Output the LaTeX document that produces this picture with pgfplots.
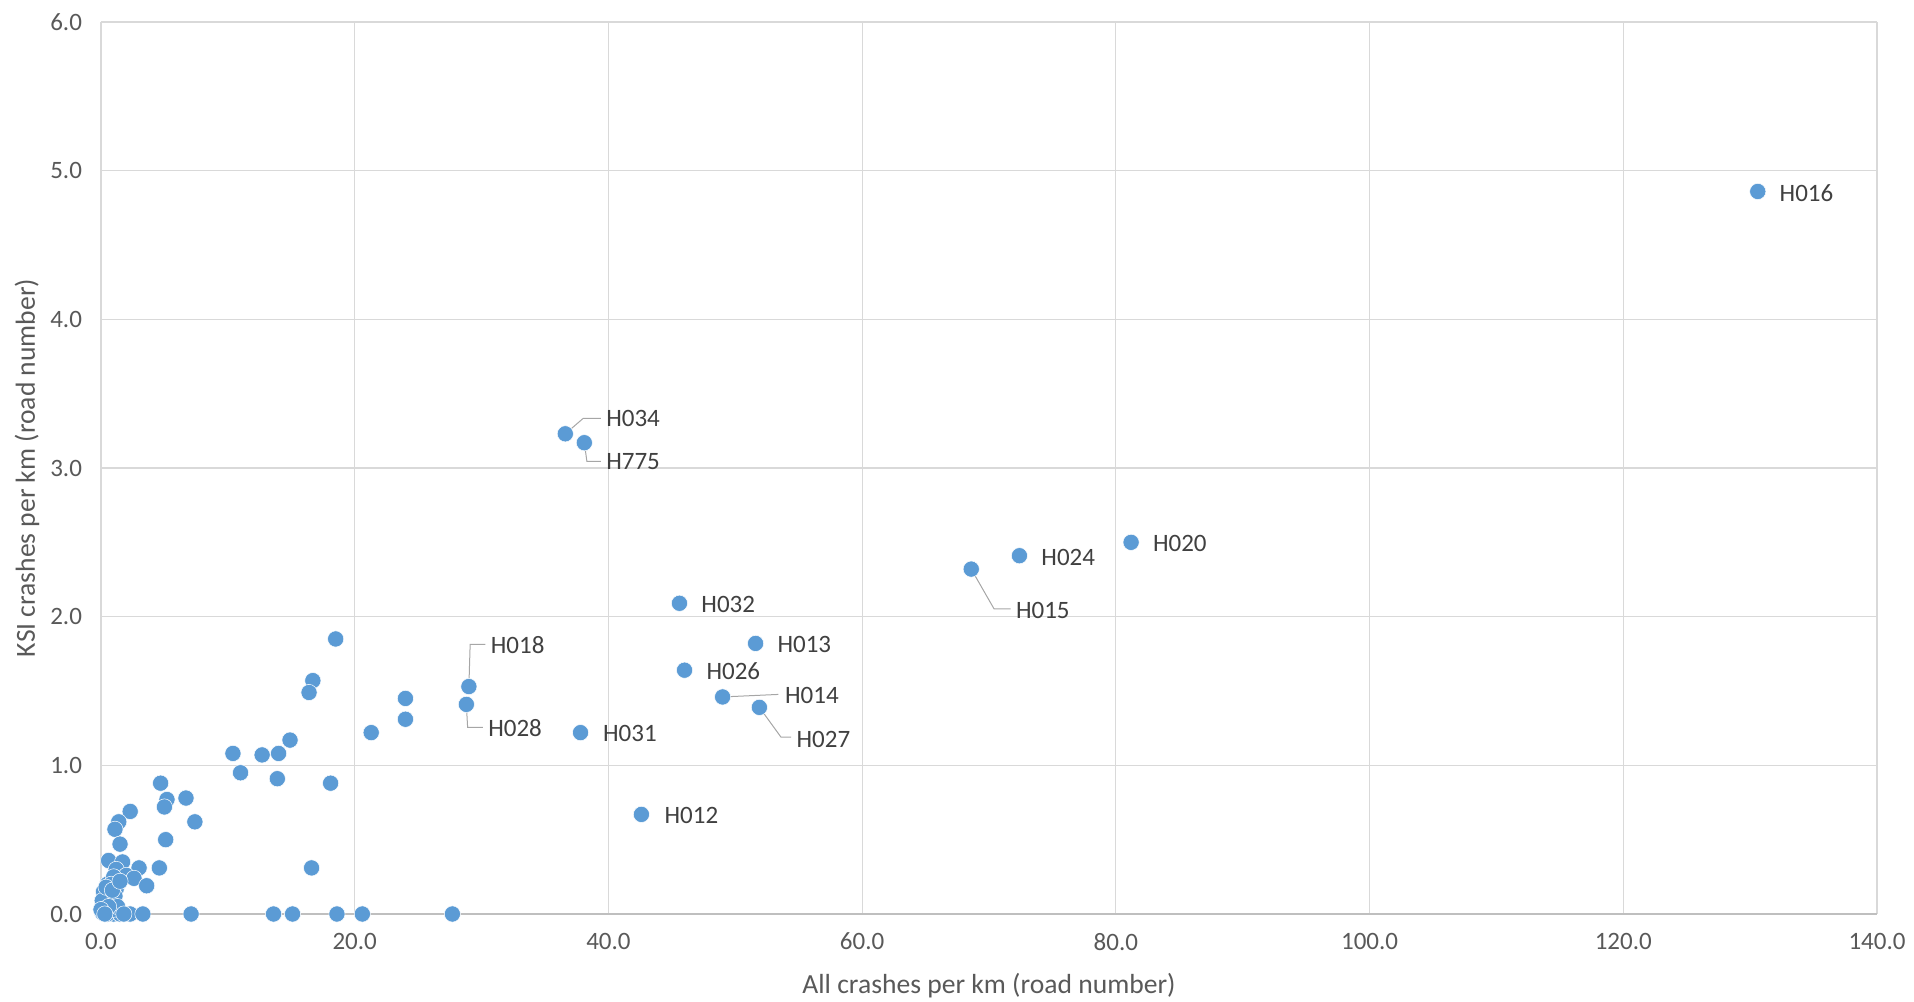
\documentclass[border=0pt]{standalone}
\usepackage{fontspec}
\setmainfont{Carlito}
\usepackage{pgfplots}
\pgfplotsset{compat=1.18}
\definecolor{ptblue}{HTML}{5B9BD5}
\definecolor{gridc}{HTML}{D9D9D9}
\definecolor{axc}{HTML}{BFBFBF}
\definecolor{tickc}{HTML}{595959}
\definecolor{labc}{HTML}{404040}
\definecolor{leadc}{HTML}{A6A6A6}
\begin{document}
\begin{tikzpicture}
\useasboundingbox (-50.5pt,-43.5pt) rectangle (906.5pt,457pt);
\begin{axis}[
  scale only axis,
  width=888pt, height=446pt,
  at={(0,0)}, anchor=south west,
  xmin=0, xmax=140, ymin=0, ymax=6,
  xtick={0,20,...,140}, ytick={0,1,...,6},
  grid=major,
  major grid style={color=gridc, line width=0.6pt},
  axis line style={draw=none},
  major tick length=0pt,
  tick label style={font=\fontsize{12.5}{14}\selectfont, color=tickc},
  /pgf/number format/assume math mode=true,
  xticklabel style={/pgf/number format/.cd, fixed, fixed zerofill, precision=1, /tikz/.cd, yshift=-6pt},
  yticklabel style={/pgf/number format/.cd, fixed, fixed zerofill, precision=1, /tikz/.cd, xshift=-6pt},
  xlabel={All crashes per km (road number)},
  ylabel={KSI crashes per km (road number)},
  label style={font=\fontsize{13.8}{16}\selectfont, color=tickc},
  xlabel style={at={(axis description cs:0.5,0)}, anchor=center, yshift=-36pt},
  ylabel style={at={(axis description cs:0,0.5)}, anchor=center, xshift=0pt, yshift=37pt},
  clip=false,
]
\draw[color=axc, line width=0.8pt] (axis cs:0,0) -- (axis cs:140,0);
\addplot[only marks, mark=*, mark size=4.05pt, mark options={fill=ptblue, draw=white, line width=0.25pt}] coordinates {
(130.6,4.86) (36.6,3.23) (38.1,3.17) (81.2,2.50) (72.4,2.41) (68.6,2.32)
(45.6,2.09) (51.6,1.82) (46.0,1.64) (49.0,1.46) (51.9,1.39) (29.0,1.53)
(28.8,1.41) (37.8,1.22) (42.6,0.67)
(18.5,1.85) (16.7,1.57) (16.4,1.49) (24.0,1.45) (24.0,1.31) (21.3,1.22)
(14.9,1.17) (10.4,1.08) (12.7,1.07) (14.0,1.08) (11.0,0.95) (13.9,0.91)
(18.1,0.88) (4.7,0.88) (6.7,0.78) (5.2,0.77) (5.0,0.72) (7.4,0.62)
(2.3,0.69) (1.4,0.62) (1.1,0.57) (1.5,0.47) (5.1,0.50) (16.6,0.31)
(4.6,0.31) (0.6,0.36) (1.7,0.35) (3.0,0.31) (1.2,0.30) (2.0,0.26)
(2.6,0.24) (3.6,0.19) (0.5,0.20) (1.0,0.25) (0.8,0.20) (1.2,0.17)
(0.3,0.12) (0.6,0.10) (0.2,0.06) (0.4,0.03) (0.8,0.08) (0.1,0.01)
(1.0,0.0) (0.5,0.0) (1.5,0.0) (2.3,0.0) (3.3,0.0) (7.1,0.0) (13.6,0.0)
(15.1,0.0) (18.6,0.0) (20.6,0.0) (27.7,0.0) (0.2,0.15) (0.7,0.14) (0.9,0.03)
(0.1,0.09) (0.4,0.18) (1.1,0.12) (1.3,0.05) (0.6,0.05) (0.0,0.03) (1.8,0.0)
(0.3,0.0) (0.9,0.16) (1.5,0.22)
};
% leader lines
\begin{scope}[color=leadc, line width=0.5pt]
\draw (axis cs:36.6,3.23) -- (axis cs:38.0,3.333) -- (axis cs:39.4,3.333);
\draw (axis cs:38.1,3.17) -- (axis cs:38.3,3.045) -- (axis cs:39.4,3.045);
\draw (axis cs:68.6,2.32) -- (axis cs:70.4,2.052) -- (axis cs:71.7,2.052);
\draw (axis cs:49.0,1.46) -- (axis cs:53.4,1.477);
\draw (axis cs:51.9,1.39) -- (axis cs:53.6,1.190) -- (axis cs:54.4,1.190);
\draw (axis cs:29.0,1.53) -- (axis cs:29.1,1.814) -- (axis cs:30.3,1.814);
\draw (axis cs:28.8,1.41) -- (axis cs:28.9,1.256) -- (axis cs:30.1,1.256);
\end{scope}
\begin{scope}[every node/.style={font=\fontsize{12.5}{14}\selectfont, color=labc, anchor=west, inner sep=0pt}]
\node at (axis cs:132.3,4.851) {H016};
\node at (axis cs:39.8,3.333) {H034};
\node at (axis cs:39.8,3.045) {H775};
\node at (axis cs:82.9,2.495) {H020};
\node at (axis cs:74.1,2.397) {H024};
\node at (axis cs:72.1,2.044) {H015};
\node at (axis cs:47.3,2.085) {H032};
\node at (axis cs:53.3,1.814) {H013};
\node at (axis cs:47.7,1.633) {H026};
\node at (axis cs:53.9,1.469) {H014};
\node at (axis cs:54.8,1.174) {H027};
\node at (axis cs:30.7,1.806) {H018};
\node at (axis cs:30.5,1.248) {H028};
\node at (axis cs:39.55,1.215) {H031};
\node at (axis cs:44.4,0.665) {H012};
\end{scope}
\end{axis}
\end{tikzpicture}
\end{document}
